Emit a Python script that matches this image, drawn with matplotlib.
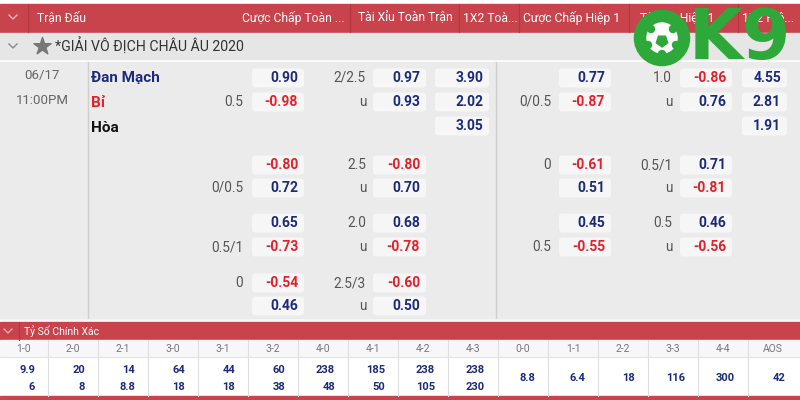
import matplotlib
matplotlib.use("Agg")
import matplotlib.pyplot as plt
from matplotlib.patches import Rectangle, FancyBboxPatch, Circle, RegularPolygon

plt.rcParams['font.family'] = ['Roboto', 'DejaVu Sans']

# ---- data ----
header_cols = ["Cược Chấp Toàn ...", "Tài Xỉu Toàn Trận", "1X2 Toà...",
               "Cược Chấp Hiệp 1", "Tài Xỉu Hiệp 1", "1X2 Hiệ..."]
league = "*GIẢI VÔ ĐỊCH CHÂU ÂU 2020"
match_date = "06/17"
match_time = "11:00PM"
teams = ["Đan Mạch", "Bỉ", "Hòa"]
team_colors = ["#1b2a7b", "#e3202b", "#111111"]

# each group: rows of (hdp_label, hdp_odds, ou_label, ou_odds, x12,
#                      h1_hdp_label, h1_hdp_odds, h1_ou_label, h1_ou_odds, h1_x12)
group_main = [
    ["", "0.90", "2/2.5", "0.97", "3.90", "", "0.77", "1.0", "-0.86", "4.55"],
    ["0.5", "-0.98", "u", "0.93", "2.02", "0/0.5", "-0.87", "u", "0.76", "2.81"],
    ["", "", "", "", "3.05", "", "", "", "", "1.91"],
]
group_2 = [
    ["", "-0.80", "2.5", "-0.80", "", "0", "-0.61", "0.5/1", "0.71", ""],
    ["0/0.5", "0.72", "u", "0.70", "", "", "0.51", "u", "-0.81", ""],
]
group_3 = [
    ["", "0.65", "2.0", "0.68", "", "", "0.45", "0.5", "0.46", ""],
    ["0.5/1", "-0.73", "u", "-0.78", "", "0.5", "-0.55", "u", "-0.56", ""],
]
group_4 = [
    ["0", "-0.54", "2.5/3", "-0.60", "", "", "", "", "", ""],
    ["", "0.46", "u", "0.50", "", "", "", "", "", ""],
]

score_title = "Tỷ Số Chính Xác"
scores = ["1-0", "2-0", "2-1", "3-0", "3-1", "3-2", "4-0", "4-1",
          "4-2", "4-3", "0-0", "1-1", "2-2", "3-3", "4-4", "AOS"]
score_home = ["9.9", "20", "14", "64", "44", "60", "238", "185",
              "238", "238", "8.8", "6.4", "18", "116", "300", "42"]
score_away = ["6", "8", "8.8", "18", "18", "38", "48", "50",
              "105", "230", "", "", "", "", "", ""]

# ---- style ----
RED = "#c8434b"
NAVY = "#1b2a7b"
ODDRED = "#e3202b"
GRAY_BG = "#ebebeb"
BOX = "#f6f6f6"
LBL = "#555555"

fig = plt.figure(figsize=(8, 4), dpi=100)
ax = fig.add_axes([0, 0, 1, 1])
ax.set_xlim(0, 800)
ax.set_ylim(400, 0)
ax.axis("off")

# backgrounds
ax.add_patch(Rectangle((0, 0), 800, 400, color="white", zorder=0))
ax.add_patch(Rectangle((0, 4), 800, 28, color=RED, zorder=1))
ax.add_patch(Rectangle((0, 33), 800, 26, color="#e6e6e6", zorder=1))
ax.add_patch(Rectangle((0, 62), 800, 257, color=GRAY_BG, zorder=1))
ax.add_patch(Rectangle((0, 322), 800, 18, color=RED, zorder=1))
ax.add_patch(Rectangle((0, 340), 800, 17, color="#f7f7f7", zorder=1))
ax.add_patch(Rectangle((0, 396), 800, 4, color=RED, zorder=1))

# header
for x in [28, 350, 459, 519, 629, 738]:
    ax.plot([x, x], [4, 32], color="#b5363e", lw=0.8, zorder=2)
ax.plot([9, 13, 17], [15, 19, 15], color="#f2b6b9", lw=1, zorder=3)
ax.text(37, 18, "Trận Đấu", color="white", fontsize=8.7, va="center", zorder=3)
hx = [242, 358, 463, 523, 640, 742]
for x, t in zip(hx, header_cols):
    ax.text(x, 18, t, color="white", fontsize=8.7, va="center", zorder=3)

# league row
ax.plot([9, 13, 17], [44, 48, 44], color="#888888", lw=1, zorder=3)
ax.scatter([42], [46], marker="*", s=170, color="#777777", zorder=3)
ax.text(55, 46, league, color="#333333", fontsize=10.2, va="center", zorder=3)

# match area separators
ax.plot([88, 88], [62, 319], color="#cfcfcf", lw=1, zorder=2)
ax.plot([496, 496], [62, 319], color="#cfcfcf", lw=1, zorder=2)

ax.text(42, 76, match_date, color="#666666", fontsize=9.5, ha="center", va="center", zorder=3)
ax.text(42, 100, match_time, color="#666666", fontsize=9.5, ha="center", va="center", zorder=3)
for i, (t, c) in enumerate(zip(teams, team_colors)):
    ax.text(91, 78 + 25 * i, t, color=c, fontsize=11, fontweight="bold",
            va="center", zorder=3)

# column geometry: (label_right, box_left, box_right)
cols = [(243, 250, 306), (366, 371, 428), (None, 433, 491),
        (551, 557, 613), (672, 678, 734), (None, 740, 789)]


def draw_group(rows, ys):
    for row, y in zip(rows, ys):
        items = [(row[0], row[1]), (row[2], row[3]), ("", row[4]),
                 (row[5], row[6]), (row[7], row[8]), ("", row[9])]
        for (lab, val), (lr, bl, br) in zip(items, cols):
            if lab and lr:
                ax.text(lr, y, lab, color=LBL, fontsize=9.8, ha="right",
                        va="center", zorder=3)
            if val:
                ax.add_patch(FancyBboxPatch((bl + 2, y - 9.5), br - bl - 4, 19,
                                            boxstyle="round,pad=0,rounding_size=3",
                                            fc=BOX, ec="none", zorder=2))
                col = ODDRED if val.startswith("-") else NAVY
                ax.text(br - 8, y, val, color=col, fontsize=10, fontweight="bold",
                        ha="right", va="center", zorder=3)


draw_group(group_main, [78, 102, 126])
draw_group(group_2, [165, 188])
draw_group(group_3, [223, 247])
draw_group(group_4, [283, 306])

ax.plot([0, 800], [320, 320], color="#f8f8f8", lw=1.2, zorder=2)

# correct score section
ax.plot([4, 8, 12], [329, 333, 329], color="#f2b6b9", lw=0.9, zorder=3)
ax.plot([19, 19], [322, 340], color="#b5363e", lw=0.8, zorder=2)
ax.text(24, 331, score_title, color="white", fontsize=7.5, va="center", zorder=3)
for k, (s, h, a) in enumerate(zip(scores, score_home, score_away)):
    cx = 23 + 50 * k
    if k < 15:
        ax.plot([48 + 50 * k] * 2, [340, 396], color="#dedede", lw=0.8, zorder=2)
    ax.text(cx, 349, s, color="#777777", fontsize=7.5, ha="center", va="center", zorder=3)
    if a:
        ax.text(cx + 12, 370, h, color=NAVY, fontsize=8, fontweight="bold",
                ha="right", va="center", zorder=3)
        ax.text(cx + 12, 387, a, color=NAVY, fontsize=8, fontweight="bold",
                ha="right", va="center", zorder=3)
    else:
        ax.text(cx + 12, 378, h, color=NAVY, fontsize=8, fontweight="bold",
                ha="right", va="center", zorder=3)
ax.plot([0, 800], [357, 357], color="#e4e4e4", lw=0.8, zorder=2)

# OK9 logo
GREEN = "#2fa83a"
ax.add_patch(Circle((662, 38), 22, fc="white", ec=GREEN, lw=9, zorder=5))
ax.add_patch(RegularPolygon((662, 41), 5, radius=6, color=GREEN, zorder=6))
for dx, dy in [(-11, 29), (11, 29), (-14, 45), (14, 45), (0, 54)]:
    ax.add_patch(Circle((662 + dx, dy), 3.5, color=GREEN, zorder=6))
ax.text(689, 39, "K9", color=GREEN, fontsize=50, fontweight="bold",
        family="DejaVu Sans", va="center", ha="left", zorder=5)

fig.savefig("out.png", dpi=100)
